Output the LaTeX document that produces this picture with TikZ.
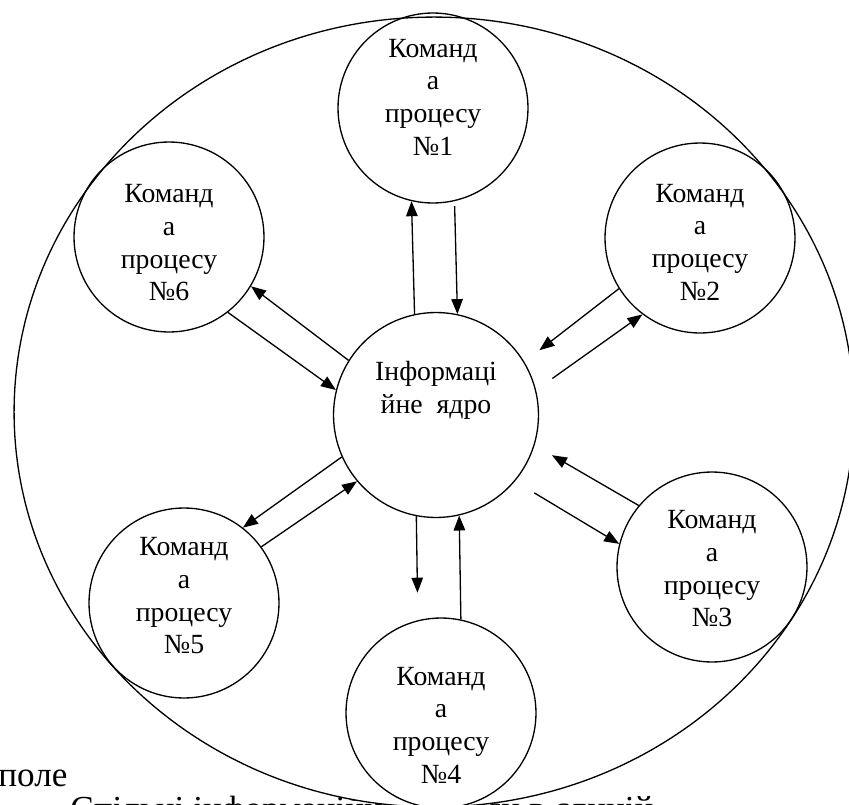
\documentclass[tikz,border=0pt]{standalone}
\usepackage{fontspec}
\setmainfont{Liberation Serif}
\usetikzlibrary{
    shapes.geometric,
    arrows.meta,
    positioning,
    calc
}
\tikzset{
    % Team circle style
    team/.style={
        circle,
        draw=black,
        line width=0.75pt,
        minimum size=3.8cm,
        inner sep=0pt
    },
    % Team text style
    team text/.style={
        align=center,
        inner sep=0pt,
        font=\fontsize{15.8}{18.6}\selectfont
    },
    % Core circle style
    core/.style={
        circle,
        draw=black,
        line width=0.75pt,
        minimum size=4.1cm,
        inner sep=0pt
    },
    % Shared field style
    field/.style={
        ellipse,
        draw=black,
        fill=white,
        line width=0.75pt,
        minimum width=16.8cm,
        minimum height=15.8cm,
        inner sep=0pt
    },
    % Arrow style
    flow/.style={
        -{Triangle[length=3mm, width=2.3mm]},
        line width=0.75pt
    },
    % Page text style
    page text/.style={
        font=\fontsize{20}{24}\selectfont,
        inner sep=0pt,
        anchor=base west
    }
}

\begin{document}
\begin{tikzpicture}[x=0.02cm, y=-0.02cm]
        \useasboundingbox (0,0) rectangle (849,805);

        % Page text behind the field
        \node[page text] (word) at (-2,786) {поле};
        \node[page text] (line) at (70,820) {Спільні інформаційні ресурси в єдиній};

        % Field
        \node[field] (field) at (434,412) {};

        % Core
        \node[core, label={[team text, yshift=0.5cm]center:Інформаці\\йне\ \ ядро}] (core) at (436,415) {};

        % Teams
        \node[team, label={[team text, yshift=0.22cm]center:Команд\\а\\процесу\\№1}] (p1) at (433,108) {};
        \node[team, label={[team text, yshift=-0.08cm]center:Команд\\а\\процесу\\№2}] (p2) at (700,238) {};
        \node[team, label={[team text, yshift=-0.04cm]center:Команд\\а\\процесу\\№3}] (p3) at (712,567) {};
        \node[team, label={[team text, yshift=-0.24cm]center:Команд\\а\\процесу\\№4}] (p4) at (441,713) {};
        \node[team, label={[team text, yshift=0.14cm]center:Команд\\а\\процесу\\№5}] (p5) at (184,603) {};
        \node[team, label={[team text, yshift=-0.12cm]center:Команд\\а\\процесу\\№6}] (p6) at (169,237) {};

        % Exchange arrows
        \draw[flow] (core.102) -- (p1.257);
        \draw[flow, shorten <=0.1cm] (p1.283) -- (core.78);
        \draw[flow, shorten <=0.4cm] (core.14) -- (p2.233);
        \draw[flow, shorten >=0.38cm] (p2.212) -- (core.31);
        \draw[flow, shorten <=0.45cm] (core.-40) -- (p3.166);
        \draw[flow, shorten >=0.4cm] (p3.140) -- (core.-17);
        \draw[flow, shorten >=0.55cm] (core.-101) -- (p4.104);
        \draw[flow] (p4.78) -- (core.-77);
        \draw[flow] (core.204) -- (p5.52);
        \draw[flow] (p5.36) -- (core.220);
        \draw[flow] (core.148) -- (p6.329);
        \draw[flow] (p6.308) -- (core.166);

\end{tikzpicture}
\end{document}
